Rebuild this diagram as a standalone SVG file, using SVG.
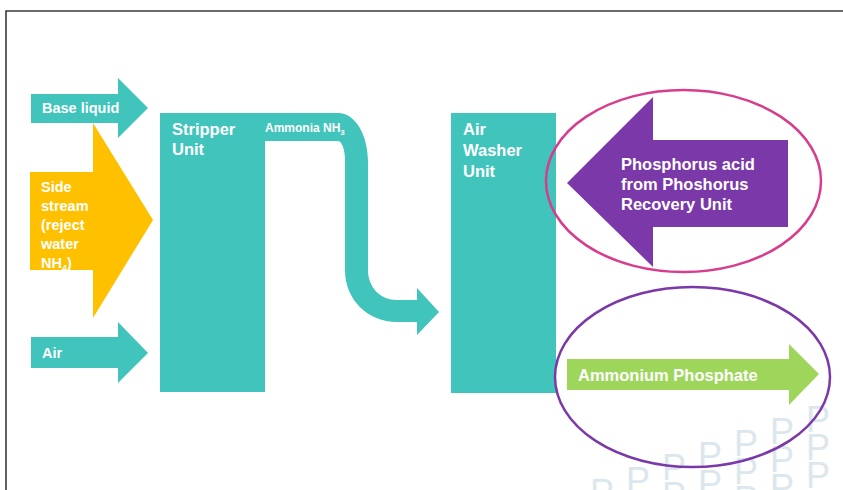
<svg xmlns="http://www.w3.org/2000/svg" width="843" height="490" viewBox="0 0 843 490">
  <defs>
    <style>
      .teal { fill: #40c4bc; }
      .lbl { font-family: "Liberation Sans", Arial, sans-serif; font-weight: bold; fill: #ffffff; }
      .wm { font-family: "Liberation Sans", Arial, sans-serif; font-size: 36px; fill: #dce7ed; }
      .ring { fill: none; stroke-width: 2.5; }
    </style>
  </defs>

  <rect x="0" y="0" width="843" height="490" fill="#ffffff"/>

  <!-- background watermark letters -->
  <g id="watermark">
    <text class="wm" x="590" y="505">P</text>
    <text class="wm" x="626" y="493">P</text>
    <text class="wm" x="662" y="480">P</text>
    <text class="wm" x="698" y="468">P</text>
    <text class="wm" x="734" y="456">P</text>
    <text class="wm" x="770" y="444">P</text>
    <text class="wm" x="806" y="432">P</text>
    <text class="wm" x="662" y="508">P</text>
    <text class="wm" x="698" y="496">P</text>
    <text class="wm" x="734" y="484">P</text>
    <text class="wm" x="770" y="472">P</text>
    <text class="wm" x="806" y="460">P</text>
    <text class="wm" x="734" y="512">P</text>
    <text class="wm" x="770" y="500">P</text>
    <text class="wm" x="806" y="488">P</text>
  </g>

  <!-- frame -->
  <g id="frame" stroke="#3a3a3a" stroke-width="1.6" fill="none">
    <path d="M6,490 L6,11 L843,11"/>
  </g>

  <g id="connectors">
    <!-- ammonia pipe from stripper to air washer -->
    <path class="teal" d="M265,113 L338,113 C356,113 368,136 368,162 L368,270 C368,287 380,300 397,300 L417,300 L417,288 L439,312 L417,335 L417,322 L397,322 C368,322 345,300 345,270 L345,160 C345,150 342,141 338,141 L265,141 Z"/>
  </g>

  <g id="base-liquid">
    <path class="teal" d="M31,94 L118,94 L118,78 L148,108 L118,138 L118,123 L31,123 Z"/>
    <text class="lbl" x="42" y="113" font-size="14.5">Base liquid</text>
  </g>

  <g id="side-stream">
    <path d="M30,172 L93,172 L93,123 L153,220 L93,318 L93,270 L30,270 Z" fill="#ffc000"/>
    <text class="lbl" font-size="14.5">
      <tspan x="41" y="192">Side</tspan>
      <tspan x="41" y="211">stream</tspan>
      <tspan x="41" y="230">(reject</tspan>
      <tspan x="41" y="249">water</tspan>
      <tspan x="41" y="268">NH<tspan font-size="9" dy="3">4</tspan><tspan dy="-3">)</tspan></tspan>
    </text>
  </g>

  <g id="air">
    <path class="teal" d="M31,337 L118,337 L118,322 L148,353 L118,383 L118,368 L31,368 Z"/>
    <text class="lbl" x="42" y="358" font-size="14.5">Air</text>
  </g>

  <g id="stripper-unit">
    <rect class="teal" x="160" y="113" width="105" height="279"/>
    <text class="lbl" font-size="16.5">
      <tspan x="172" y="135">Stripper</tspan>
      <tspan x="172" y="155">Unit</tspan>
    </text>
  </g>

  <g id="ammonia-label">
    <text class="lbl" x="265" y="132" font-size="12">Ammonia NH<tspan font-size="8" dy="3">3</tspan></text>
  </g>

  <g id="air-washer-unit">
    <rect class="teal" x="451" y="113" width="105" height="280"/>
    <text class="lbl" font-size="16.5">
      <tspan x="463" y="135">Air</tspan>
      <tspan x="463" y="156">Washer</tspan>
      <tspan x="463" y="177">Unit</tspan>
    </text>
  </g>

  <g id="phosphorus-acid">
    <ellipse class="ring" cx="683.5" cy="181" rx="137.5" ry="91" stroke="#d83d8d"/>
    <path d="M788,140 L653,140 L653,97 L567,183 L653,267 L653,227 L788,227 Z" fill="#7a38a8"/>
    <text class="lbl" font-size="16.5">
      <tspan x="621" y="170">Phosphorus acid</tspan>
      <tspan x="621" y="190">from Phoshorus</tspan>
      <tspan x="621" y="210">Recovery Unit</tspan>
    </text>
  </g>

  <g id="ammonium-phosphate">
    <ellipse class="ring" cx="692.5" cy="377" rx="137.5" ry="90" stroke="#7a38a8"/>
    <path d="M567,359 L789,359 L789,344 L819,374 L789,405 L789,390 L567,390 Z" fill="#9dd65a"/>
    <text class="lbl" x="578" y="381" font-size="16.5">Ammonium Phosphate</text>
  </g>
</svg>
